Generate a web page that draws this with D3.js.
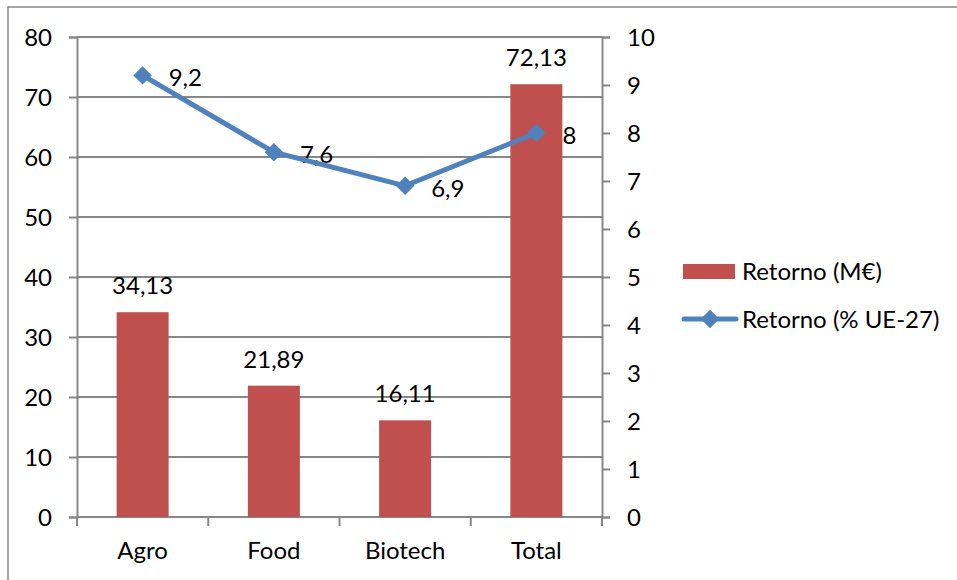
<!DOCTYPE html>
<html><head><meta charset="utf-8">
<script src="https://cdn.jsdelivr.net/npm/d3@7"></script>
<style>
html,body{margin:0;padding:0;background:#fff;}
svg{display:block;}
text{font-family:Lato,"Open Sans",sans-serif;fill:#000;}
</style></head>
<body>
<svg id="chart" width="957" height="580"></svg>
<script>
const categories = ["Agro", "Food", "Biotech", "Total"];
const barValues = [34.13, 21.89, 16.11, 72.13];
const barLabels = ["34,13", "21,89", "16,11", "72,13"];
const lineValues = [9.2, 7.6, 6.9, 8];
const lineLabels = ["9,2", "7,6", "6,9", "8"];
const leftTicks = [0, 10, 20, 30, 40, 50, 60, 70, 80];
const rightTicks = [0, 1, 2, 3, 4, 5, 6, 7, 8, 9, 10];
const seriesNames = ["Retorno (M€)", "Retorno (% UE-27)"];

const barColor = "#C0504D", lineColor = "#4F81BD", axisColor = "#878787";
const FS = 24;

const svg = d3.select("#chart");
const x0 = 77, x1 = 602, yTop = 37, yBot = 517;

// outer frame (left and top only)
svg.append("path").attr("d", `M8,580 L8,7 L957,7`).attr("fill", "none")
  .attr("stroke", axisColor).attr("stroke-width", 1.5);

const x = d3.scaleBand().domain(categories).range([x0, x1]).paddingInner(0).paddingOuter(0);
const yL = d3.scaleLinear().domain([0, 80]).range([yBot, yTop]);
const yR = d3.scaleLinear().domain([0, 10]).range([yBot, yTop]);

// gridlines
svg.append("g").selectAll("line").data(leftTicks.filter(d => d > 0)).join("line")
  .attr("x1", x0).attr("x2", x1).attr("y1", d => yL(d)).attr("y2", d => yL(d))
  .attr("stroke", axisColor).attr("stroke-width", 2);

// left axis
const gl = svg.append("g").attr("transform", `translate(${x0},0)`)
  .call(d3.axisLeft(yL).tickValues(leftTicks).tickSize(8).tickPadding(17).tickFormat(d3.format("d")));
// right axis
const gr = svg.append("g").attr("transform", `translate(${x1},0)`)
  .call(d3.axisRight(yR).tickValues(rightTicks).tickSize(8).tickPadding(17).tickFormat(d3.format("d")));
// bottom axis
const gb = svg.append("g").attr("transform", `translate(0,${yBot})`)
  .call(d3.axisBottom(x).tickSize(0).tickPadding(25));
// category boundary ticks
svg.append("g").selectAll("line").data(d3.range(categories.length + 1)).join("line")
  .attr("x1", i => x0 + i * x.step()).attr("x2", i => x0 + i * x.step())
  .attr("y1", yBot).attr("y2", yBot + 9).attr("stroke", axisColor).attr("stroke-width", 2);

[gl, gr, gb].forEach(g => {
  g.select(".domain").attr("stroke", axisColor).attr("stroke-width", 2);
  g.selectAll(".tick line").attr("stroke", axisColor).attr("stroke-width", 2);
  g.selectAll(".tick text").style("font-family", "Lato, sans-serif").style("font-size", FS + "px").attr("fill", "#000");
});
gb.select(".domain").attr("d", `M${x0},0H${x1}`);
gl.selectAll(".tick text").attr("dy", "0.36em");
gr.selectAll(".tick text").attr("dy", "0.36em");

// bars
const bw = 52;
svg.append("g").selectAll("rect").data(barValues).join("rect")
  .attr("x", (d, i) => x(categories[i]) + x.bandwidth() / 2 - bw / 2)
  .attr("width", bw)
  .attr("y", d => yL(d)).attr("height", d => yBot - yL(d))
  .attr("fill", barColor);

svg.append("g").selectAll("text").data(barValues).join("text")
  .attr("x", (d, i) => x(categories[i]) + x.bandwidth() / 2)
  .attr("y", d => yL(d) - 18)
  .attr("text-anchor", "middle").style("font-size", FS + "px")
  .text((d, i) => barLabels[i]);

// line labels (beneath the line)
svg.append("g").selectAll("text").data(lineValues).join("text")
  .attr("x", (d, i) => x(categories[i]) + x.bandwidth() / 2 + 26)
  .attr("y", d => yR(d) + 11)
  .style("font-size", FS + "px")
  .text((d, i) => lineLabels[i]);

// line
const pts = lineValues.map((d, i) => [x(categories[i]) + x.bandwidth() / 2, yR(d)]);
svg.append("path").attr("d", d3.line()(pts)).attr("fill", "none")
  .attr("stroke", lineColor).attr("stroke-width", 5).attr("stroke-linejoin", "round").attr("stroke-linecap", "round");
const diamond = d3.symbol().type(d3.symbolSquare).size(170);
svg.append("g").selectAll("path").data(pts).join("path")
  .attr("transform", d => `translate(${d[0]},${d[1]}) rotate(45)`)
  .attr("d", diamond()).attr("fill", lineColor);

// legend
const lg = svg.append("g");
lg.append("rect").attr("x", 683).attr("y", 264).attr("width", 52).attr("height", 15).attr("fill", barColor);
lg.append("text").attr("x", 742).attr("y", 271).attr("dy", "0.36em").style("font-size", FS + "px").text(seriesNames[0]);
lg.append("line").attr("x1", 684).attr("x2", 736).attr("y1", 319).attr("y2", 319)
  .attr("stroke", lineColor).attr("stroke-width", 5).attr("stroke-linecap", "round");
lg.append("path").attr("transform", "translate(710,319) rotate(45)").attr("d", diamond()).attr("fill", lineColor);
lg.append("text").attr("x", 742).attr("y", 319).attr("dy", "0.36em").style("font-size", FS + "px").text(seriesNames[1]);
</script>
</body></html>
